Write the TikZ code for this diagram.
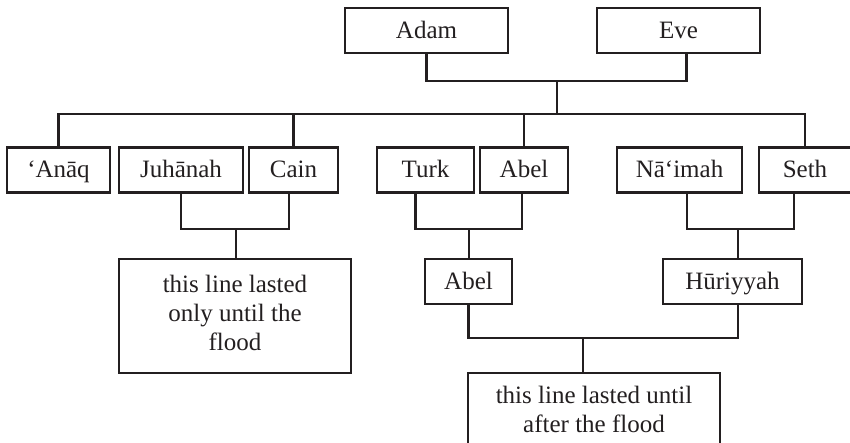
\documentclass[tikz,border=0pt]{standalone}
\usepackage{fontspec}
\setmainfont{Liberation Serif}
\definecolor{ink}{HTML}{231F20}

\begin{document}
\begin{tikzpicture}[x=1pt, y=-1pt,
  every node/.style={font=\fontsize{25}{29}\selectfont, text=ink},
  person/.style={rectangle, draw=ink, line width=2.2pt, text centered, minimum height=45pt, inner sep=0pt, text height=18pt, text depth=3pt},
  note/.style={rectangle, draw=ink, line width=2.2pt, align=center, inner sep=0pt},
  link/.style={draw=ink, line width=2.2pt}]

  \useasboundingbox (0,0) rectangle (850,442);
  \clip (0,0) rectangle (850,442);

  % First parents
  \node (adam) [person, minimum width=163pt] at (426.5,30.5) {Adam};
  \node (eve) [person, minimum width=163pt] at (678.5,30.5) {Eve};

  % Children of Adam and Eve
  \node (anaq) [person, minimum width=103pt] at (58.5,170) {‘Anāq};
  \node (juhanah) [person, minimum width=124pt] at (181,170) {Juhānah};
  \node (cain) [person, minimum width=89pt] at (293.5,170) {Cain};
  \node (turk) [person, minimum width=97pt] at (425.5,170) {Turk};
  \node (abel) [person, minimum width=88pt] at (524,170) {Abel};
  \node (naimah) [person, minimum width=125pt] at (679.5,170) {Nā‘imah};
  \node (seth) [person, minimum width=92pt] at (805,170) {Seth};

  % Next generation
  \node (floodone) [note, minimum width=232pt, minimum height=114pt] at (235,316) {\raisebox{3pt}{\begin{tabular}{@{}c@{}}this line lasted\\only until the\\flood\end{tabular}}};
  \node (abeltwo) [person, minimum width=87pt] at (468.5,281.5) {Abel};
  \node (huriyyah) [person, minimum width=139pt] at (732.5,281.5) {Hūriyyah};
  \node (floodtwo) [note, minimum width=252pt, minimum height=72pt] at (594,409) {this line lasted until\\after the flood};

  % Joints of the lines
  \coordinate (parents) at (557,81);
  \coordinate (children) at (557,114);
  \coordinate (jc) at (236,229);
  \coordinate (ta) at (469,229);
  \coordinate (ns) at (738,229);
  \coordinate (after) at (583,338);

  % Lines between parents and children
  \draw[link] (adam.south) |- (parents) -| ([xshift=8pt]eve.south);
  \draw[link] (parents) -- (children);
  \draw[link] (anaq.north) |- (children) -| (seth.north);
  \draw[link] (cain.north) -- (cain.north |- children);
  \draw[link] (abel.north) -- (abel.north |- children);

  \draw[link] (juhanah.south) |- (jc) -| ([xshift=-4.5pt]cain.south);
  \draw[link] (jc) -- (jc |- floodone.north);
  \draw[link] ([xshift=-10pt]turk.south) |- (ta) -| ([xshift=-2pt]abel.south);
  \draw[link] (ta) -- (ta |- abeltwo.north);
  \draw[link] ([xshift=7.5pt]naimah.south) |- (ns) -| ([xshift=-11pt]seth.south);
  \draw[link] (ns) -- (ns |- huriyyah.north);

  \draw[link] (abeltwo.south) |- (after) -| ([xshift=5.5pt]huriyyah.south);
  \draw[link] (after) -- (after |- floodtwo.north);

\end{tikzpicture}
\end{document}
